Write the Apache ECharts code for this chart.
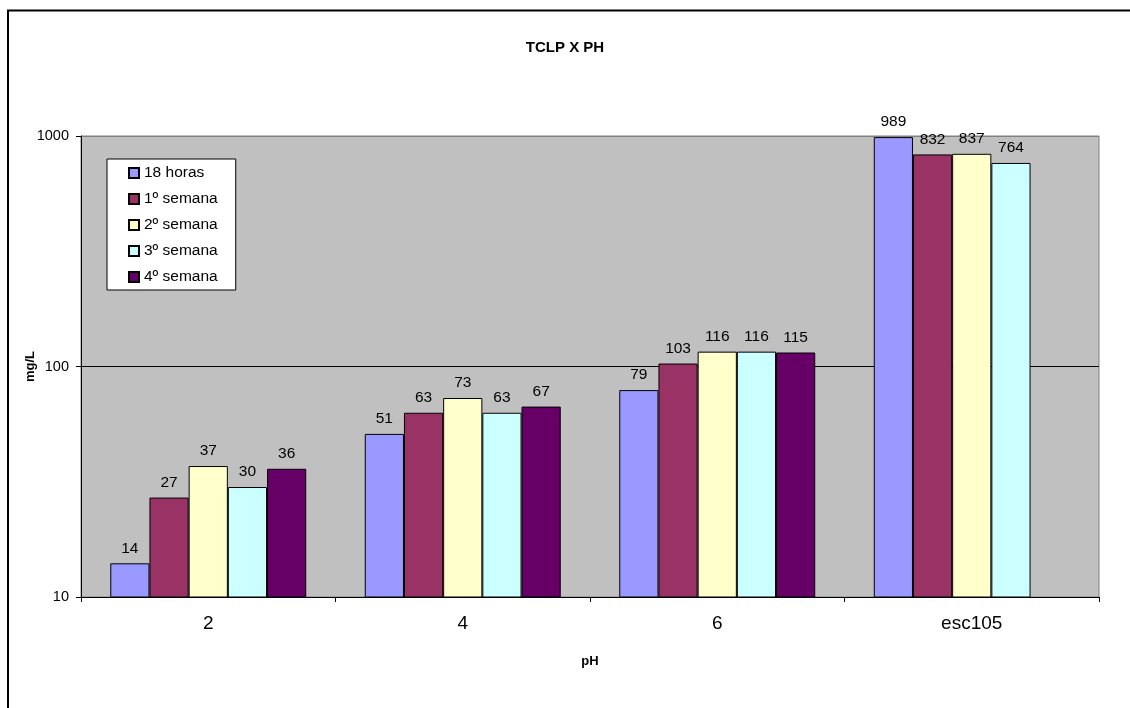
<!DOCTYPE html>
<html>
<head>
<meta charset="utf-8">
<script src="https://cdn.jsdelivr.net/npm/echarts@6/dist/echarts.min.js"></script>
<style>html,body{margin:0;padding:0;background:#fff;}#c{width:1130px;height:708px;}</style>
</head>
<body>
<div id="c"></div>
<script>
var categories = ['2', '4', '6', 'esc105'];
var seriesNames = ['18 horas', '1º semana', '2º semana', '3º semana', '4º semana'];
var s18horas = [14, 51, 79, 989];
var s1semana = [27, 63, 103, 832];
var s2semana = [37, 73, 116, 837];
var s3semana = [30, 63, 116, 764];
var s4semana = [36, 67, 115, null];
var colors = ['#9999FF', '#993366', '#FFFFCC', '#CCFFFF', '#660066'];
var allData = [s18horas, s1semana, s2semana, s3semana, s4semana];

var font = 'Liberation Sans, Arial, sans-serif';
var chart = echarts.init(document.getElementById('c'));
var series = allData.map(function (d, i) {
  return {
    name: seriesNames[i],
    type: 'bar',
    data: d,
    barGap: '0%',
    barCategoryGap: '23%',
    itemStyle: { color: colors[i], borderColor: '#000', borderWidth: 1 },
    label: { show: true, position: 'top', color: '#000', fontFamily: font, fontSize: 15.5, distance: 7 }
  };
});
chart.setOption({
  animation: false,
  backgroundColor: '#fff',
  title: {
    text: 'TCLP X PH', left: 'center', top: 35,
    textStyle: { fontFamily: font, fontSize: 15, fontWeight: 'bold', color: '#000' }
  },
  graphic: [{
    type: 'rect', z: 100,
    shape: { x: 8, y: 10.5, width: 1140, height: 720 },
    style: { fill: 'none', stroke: '#000', lineWidth: 2 }
  }],
  legend: {
    orient: 'vertical', left: 107, top: 159,
    backgroundColor: '#fff', borderColor: '#000', borderWidth: 1, borderRadius: 0,
    padding: [6, 18, 5, 21],
    itemWidth: 10, itemHeight: 10, itemGap: 10,
    icon: 'rect',
    textStyle: { fontFamily: font, fontSize: 15.5, color: '#000' },
    data: seriesNames
  },
  grid: {
    left: 81, right: 31, top: 136, bottom: 111,
    show: true, backgroundColor: '#C0C0C0', borderColor: '#808080', borderWidth: 1
  },
  xAxis: {
    type: 'category', data: categories,
    name: 'pH', nameLocation: 'middle', nameGap: 58,
    nameTextStyle: { fontFamily: font, fontSize: 13, fontWeight: 'bold', color: '#000' },
    axisLine: { lineStyle: { color: '#000', width: 1 } },
    axisTick: { show: true, alignWithLabel: false, length: 5, lineStyle: { color: '#000' } },
    axisLabel: { fontFamily: font, fontSize: 19, color: '#000', margin: 17 },
    splitLine: { show: false }
  },
  yAxis: {
    type: 'log', logBase: 10, min: 10, max: 1000,
    name: 'mg/L', nameLocation: 'middle', nameGap: 44, nameRotate: 90,
    nameMoveOverlap: false,
    nameTextStyle: { fontFamily: font, fontSize: 13, fontWeight: 'bold', color: '#000' },
    axisLine: { show: true, lineStyle: { color: '#000', width: 1 } },
    axisTick: { show: true, length: 5, lineStyle: { color: '#000' } },
    axisLabel: { fontFamily: font, fontSize: 14.5, color: '#000', margin: 12,
      formatter: function (v) { return String(Math.round(v)); } },
    splitLine: { show: true, lineStyle: { color: ['#000', '#000', '#808080'], width: 1 } },
    minorTick: { show: false }
  },
  series: series
});
</script>
</body>
</html>
